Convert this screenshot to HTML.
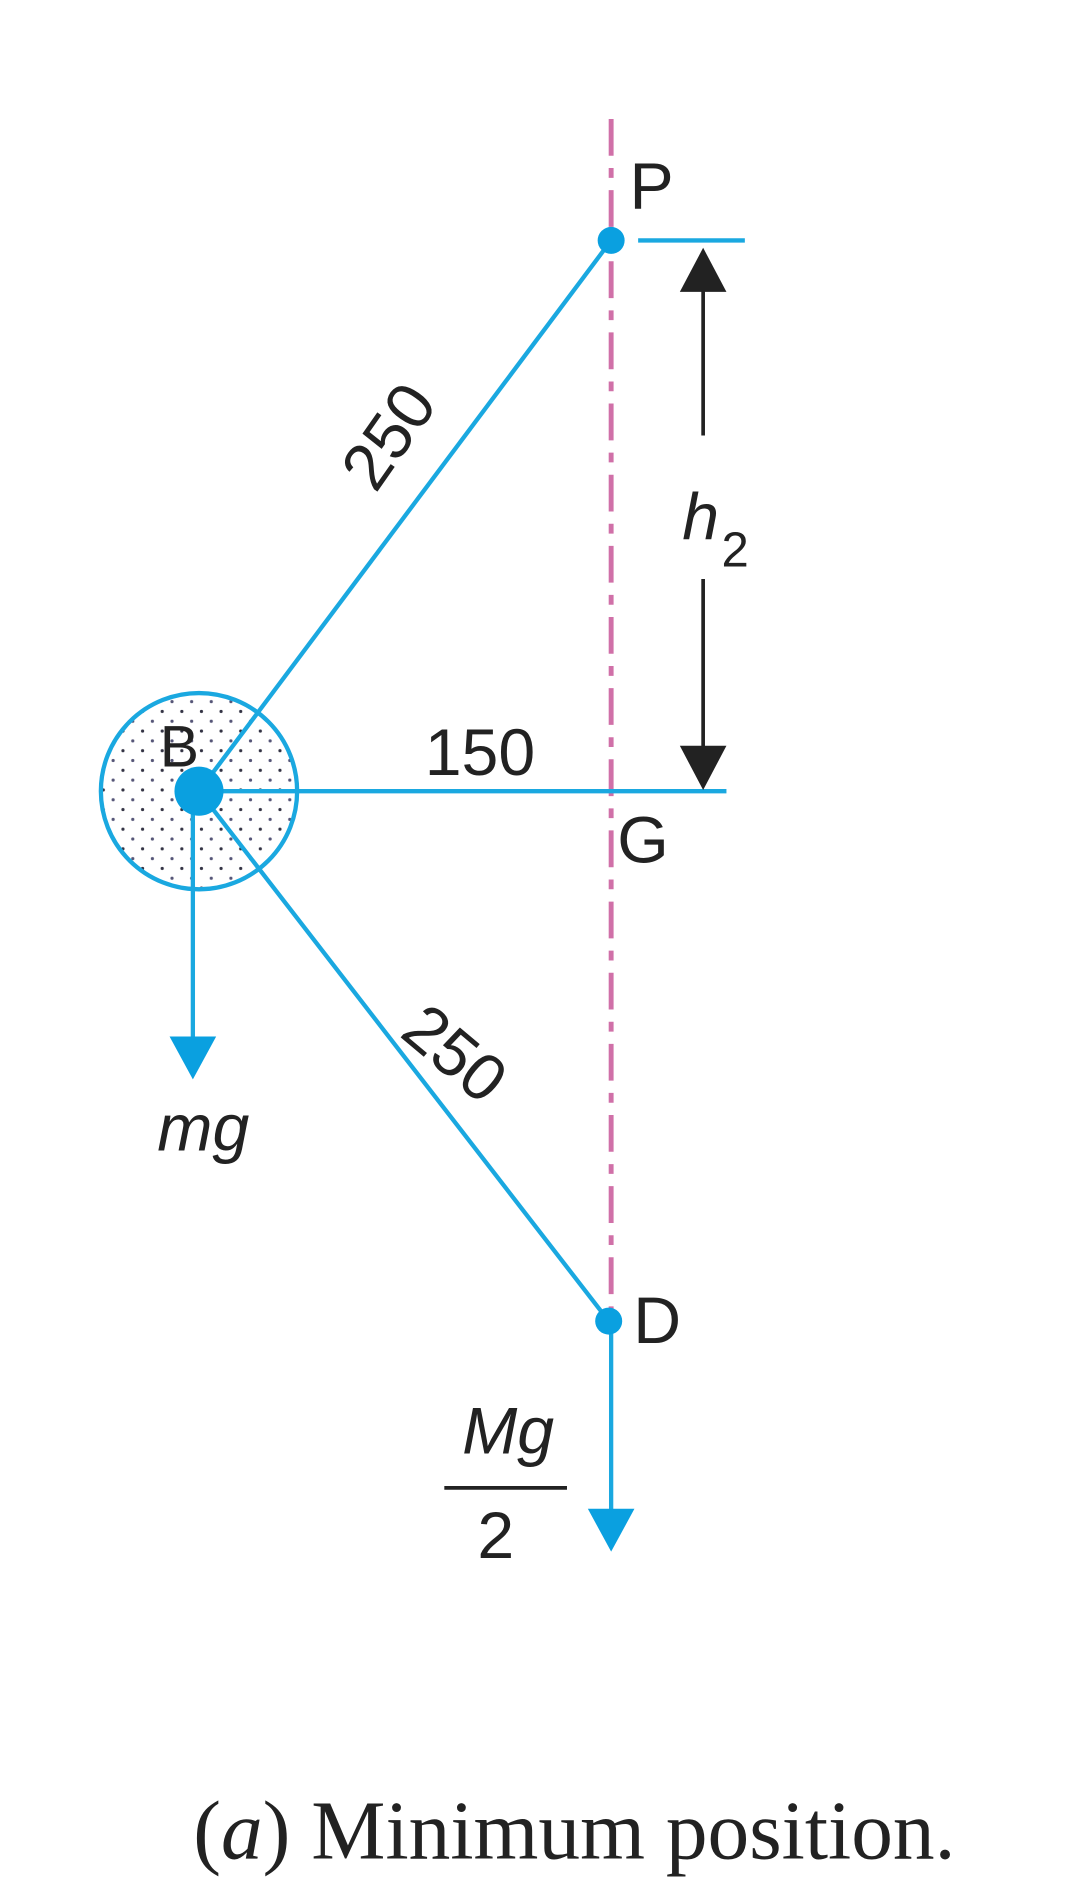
<!DOCTYPE html>
<html><head><meta charset="utf-8"><style>html,body{margin:0;padding:0;background:#fff}svg{display:block}</style></head>
<body>
<svg width="1080" height="1889" viewBox="0 0 880 1540" xmlns="http://www.w3.org/2000/svg">
<defs>
<pattern id="dots" width="16" height="16" patternUnits="userSpaceOnUse">
<circle cx="4" cy="4" r="1.3" fill="#334"/><circle cx="12" cy="12" r="1.3" fill="#557"/>
</pattern>
</defs>
<line x1="498" y1="97" x2="498" y2="1070" stroke="#d070a8" stroke-width="4" stroke-dasharray="30,10,8,10"/>
<circle cx="162" cy="645" r="80" fill="url(#dots)" stroke="#1aa8e0" stroke-width="3.5"/>
<g stroke="#1aa8e0" stroke-width="3.5" fill="none">
<line x1="162" y1="645" x2="498" y2="196"/>
<line x1="162" y1="645" x2="592" y2="645"/>
<line x1="162" y1="645" x2="496" y2="1077"/>
<line x1="520" y1="196" x2="607" y2="196"/>
<line x1="157" y1="650" x2="157" y2="850"/>
<line x1="498" y1="1077" x2="498" y2="1235"/>
</g>
<circle cx="162" cy="645" r="20" fill="#0aa0e0"/>
<circle cx="498" cy="196" r="11" fill="#0aa0e0"/>
<circle cx="496" cy="1077" r="11" fill="#0aa0e0"/>
<polygon points="138,845 176,845 157,880" fill="#0aa0e0"/>
<polygon points="479,1230 517,1230 498,1265" fill="#0aa0e0"/>
<g stroke="#222" stroke-width="3">
<line x1="573" y1="230" x2="573" y2="355"/>
<line x1="573" y1="472" x2="573" y2="615"/>
</g>
<polygon points="554,238 592,238 573,202" fill="#222"/>
<polygon points="554,608 592,608 573,644" fill="#222"/>
<g font-family="Liberation Sans, sans-serif" font-size="54" fill="#222">
<text x="130" y="625" font-size="48">B</text>
<text x="513" y="170">P</text>
<text x="346" y="632">150</text>
<text x="503" y="703">G</text>
<text x="516" y="1095">D</text>
<text transform="translate(320,358) rotate(-55)" text-anchor="middle" dominant-baseline="middle">250</text>
<text transform="translate(368,862) rotate(40)" text-anchor="middle" dominant-baseline="middle">250</text>
<text x="128" y="938" font-style="italic">mg</text>
<text x="556" y="440" font-style="italic">h</text>
<text x="588" y="462" font-size="40">2</text>
<text x="414" y="1185" font-style="italic" text-anchor="middle">Mg</text>
<text x="404" y="1270" text-anchor="middle">2</text>
</g>
<line x1="362" y1="1213" x2="462" y2="1213" stroke="#222" stroke-width="3"/>
<text x="468" y="1515" font-family="Liberation Serif, serif" font-size="68" fill="#222" text-anchor="middle">(<tspan font-style="italic">a</tspan>) Minimum position.</text>
</svg>
</body></html>
